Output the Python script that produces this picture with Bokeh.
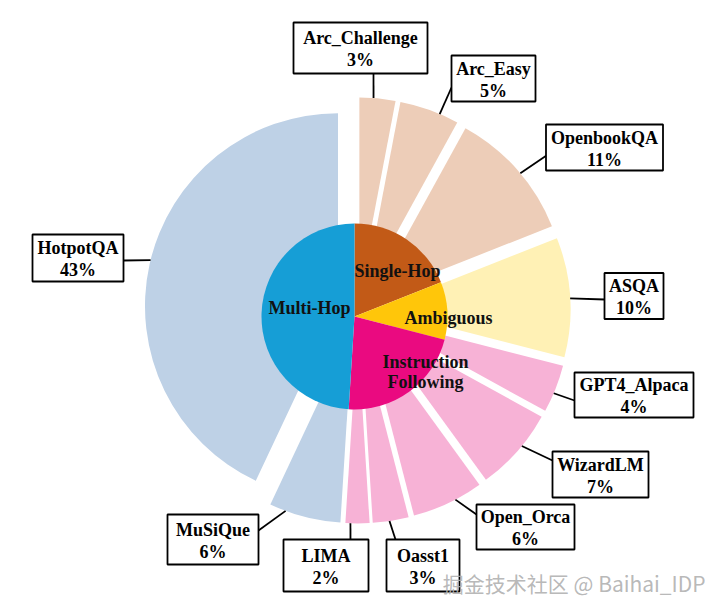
import math
from bokeh.plotting import figure
from bokeh.models import Range1d, ColumnDataSource
from bokeh.core.properties import value
from bokeh.embed import file_html
from bokeh.resources import INLINE

# ---------------- data ----------------
datasets = ["Arc_Challenge", "Arc_Easy", "OpenbookQA", "ASQA", "GPT4_Alpaca",
            "WizardLM", "Open_Orca", "Oasst1", "LIMA", "MuSiQue", "HotpotQA"]
shares = [3, 5, 11, 10, 4, 7, 6, 3, 2, 6, 43]
dataset_group = ["Single-Hop", "Single-Hop", "Single-Hop", "Ambiguous",
                 "Instruction Following", "Instruction Following", "Instruction Following",
                 "Instruction Following", "Instruction Following", "Multi-Hop", "Multi-Hop"]
categories = ["Single-Hop", "Ambiguous", "Instruction Following", "Multi-Hop"]

# ---------------- styles / layout ----------------
cat_colors = {"Single-Hop": "#C25A17", "Ambiguous": "#FFC60A",
              "Instruction Following": "#EA0A80", "Multi-Hop": "#169ED6"}
ring_colors = {"Single-Hop": "#EDCDB8", "Ambiguous": "#FFF1B5",
               "Instruction Following": "#F7B2D6", "Multi-Hop": "#BED1E6"}

W, H = 720, 613
FIG_W, FIG_H = 712, 605
RING_C = (357, 310)      # screen px
RING_R = 193
EXPLODE = 20
PIE_C = (354, 316)
PIE_R = 93

# label boxes: centre x, centre y, width, height (screen px), attach angle (deg cw from top), box anchor
label_layout = {
    "Arc_Challenge": (360, 47.5, 134, 51, 4.2, (373, 73)),
    "Arc_Easy": (493, 78, 84, 46, 23.0, (451, 87)),
    "OpenbookQA": (604, 147, 117, 46, 50.0, (546, 155)),
    "ASQA": (633.5, 295.5, 59, 46, 86.8, (604, 299)),
    "GPT4_Alpaca": (633.5, 394.5, 119, 45, 113.0, (574, 400)),
    "WizardLM": (600, 474, 96, 46, 129.3, (552, 460)),
    "Open_Orca": (525, 526.5, 98, 45, 152.4, (476, 514)),
    "Oasst1": (422.5, 565, 73, 52, 171.4, (395, 539)),
    "LIMA": (325.5, 565, 85, 52, 182.1, (350, 539)),
    "MuSiQue": (212.5, 539, 91, 50, 200.3, (258, 530)),
    "HotpotQA": (77.5, 257.5, 91, 47, 283.8, (123, 260)),
}
inner_label_layout = {
    "Single-Hop": [("Single-Hop", 397, 270)],
    "Ambiguous": [("Ambiguous", 448, 317)],
    "Instruction Following": [("Instruction", 425, 361), ("Following", 425, 381)],
    "Multi-Hop": [("Multi-Hop", 309, 307)],
}
FONT = value("Liberation Serif")


def sx(x):
    return x


def sy(y):
    return H - y


p = figure(width=FIG_W, height=FIG_H, output_backend="svg", toolbar_location=None,
           x_range=Range1d(0, FIG_W), y_range=Range1d(H - FIG_H, H),
           min_border=0, min_border_left=0, min_border_right=0,
           min_border_top=0, min_border_bottom=0)
p.axis.visible = False
p.grid.visible = False
p.outline_line_color = None
p.background_fill_color = "white"
p.border_fill_color = "white"

# ---------------- outer exploded ring ----------------
cx0, cy0 = sx(RING_C[0]), sy(RING_C[1])
total = float(sum(shares))
cum = 0.0
rx, ry, rs, re, rc = [], [], [], [], []
wedge_geo = {}
for name, s, g in zip(datasets, shares, dataset_group):
    a = cum / total * 360.0
    b = (cum + s) / total * 360.0
    cum += s
    m = math.radians((a + b) / 2)
    ox = cx0 + EXPLODE * math.sin(m)
    oy = cy0 + EXPLODE * math.cos(m)
    rx.append(ox); ry.append(oy)
    rs.append(90 - b); re.append(90 - a)
    rc.append(ring_colors[g])
    wedge_geo[name] = (ox, oy)

p.wedge(x="x", y="y", radius=RING_R, start_angle="s", end_angle="e",
        start_angle_units="deg", end_angle_units="deg", direction="anticlock",
        fill_color="c", line_color=None,
        source=ColumnDataSource(dict(x=rx, y=ry, s=rs, e=re, c=rc)))

# ---------------- inner pie ----------------
cat_shares = [sum(s for s, g in zip(shares, dataset_group) if g == c) for c in categories]
pcx, pcy = sx(PIE_C[0]), sy(PIE_C[1])
cum = 0.0
ps, pe, pc = [], [], []
for c, s in zip(categories, cat_shares):
    a = cum / total * 360.0
    b = (cum + s) / total * 360.0
    cum += s
    ps.append(90 - b); pe.append(90 - a); pc.append(cat_colors[c])
p.wedge(x=pcx, y=pcy, radius=PIE_R, start_angle="s", end_angle="e",
        start_angle_units="deg", end_angle_units="deg", direction="anticlock",
        fill_color="c", line_color=None,
        source=ColumnDataSource(dict(s=ps, e=pe, c=pc)))

for c in categories:
    for txt, x, y in inner_label_layout[c]:
        p.text(x=[sx(x)], y=[sy(y)], text=[txt], text_font=FONT, text_font_style="bold",
               text_font_size="18px", text_color="#111111", text_align="center",
               text_baseline="middle")

# ---------------- leader lines and label boxes ----------------
for name, s in zip(datasets, shares):
    bx, by, bw, bh, ang, anchor = label_layout[name]
    ox, oy = wedge_geo[name]
    t = math.radians(ang)
    ax = ox + RING_R * math.sin(t)
    ay = oy + RING_R * math.cos(t)
    p.line(x=[ax, sx(anchor[0])], y=[ay, sy(anchor[1])], line_color="black", line_width=1.8)
    p.rect(x=[sx(bx)], y=[sy(by)], width=bw, height=bh, fill_color="white",
           line_color="black", line_width=1.8)
    p.text(x=[sx(bx)], y=[sy(by - 10)], text=[name], text_font=FONT, text_font_style="bold",
           text_font_size="18px", text_color="black", text_align="center", text_baseline="middle")
    p.text(x=[sx(bx)], y=[sy(by + 12)], text=[f"{s}%"], text_font=FONT, text_font_style="bold",
           text_font_size="18px", text_color="black", text_align="center", text_baseline="middle")

# ---------------- watermark ----------------
p.text(x=[sx(705)], y=[sy(582)], text=["掘金技术社区 @ Baihai_IDP"],
       text_font=value("Noto Sans CJK SC"), text_font_size="21px", text_color="#b0b0b0",
       text_alpha=0.9, text_align="right", text_baseline="middle")

open("out.html", "w").write(file_html(p, INLINE))
